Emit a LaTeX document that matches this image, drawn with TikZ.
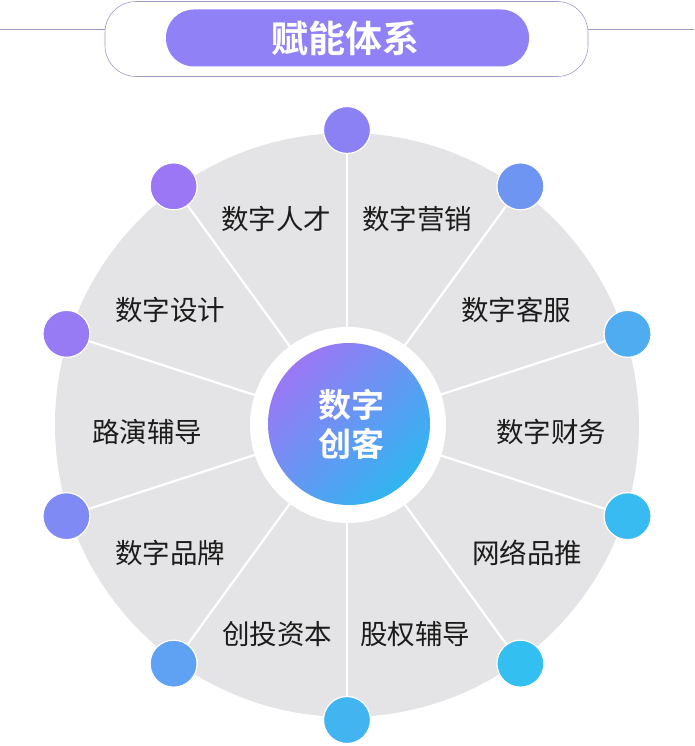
\documentclass[tikz,border=0pt]{standalone}
\usepackage{fontspec}
\newfontfamily\cjk{Noto Sans CJK SC}
\newfontfamily\cjkb{Noto Sans CJK SC Bold}
\usetikzlibrary{calc}
\definecolor{pur}{HTML}{9B77F5}
\definecolor{cya}{HTML}{33BFF0}
\definecolor{disc}{HTML}{E4E4E6}
\definecolor{frame}{HTML}{9C9AC4}
\definecolor{pill}{HTML}{9181F7}
\definecolor{txt}{HTML}{1C1C1C}
\tikzset{
  dot/.style={circle,draw=white,line width=1.2pt,minimum size=47pt,inner sep=0pt},
  lbl/.style={font=\cjk\fontsize{27.5}{32}\selectfont,text=txt,inner sep=0pt},
  spoke/.style={white,line width=2.2pt},
}
\begin{document}
\begin{tikzpicture}[x=1pt,y=-1pt]
\useasboundingbox (0,0) rectangle (694,746);
% title
\coordinate (tl) at (0,29);
\coordinate (tr) at (694,29);
\node[draw=frame,line width=0.6pt,rounded corners=31pt,minimum width=483pt,minimum height=75pt,inner sep=0pt] (tframe) at (346.5,39) {};
\draw[frame,line width=0.8pt] (tl) -- (tframe.west |- tl);
\draw[frame,line width=0.8pt] (tframe.east |- tr) -- (tr);
\node[fill=pill,rounded corners=28pt,minimum width=363pt,minimum height=57pt,inner sep=0pt] (tpill) at (347.5,38) {};
\node[font=\cjkb\fontsize{37}{42}\selectfont,text=white,inner sep=0pt] (ttext) at (345,38) {赋能体系};
% big disc
\node[circle,fill=disc,minimum size=584pt,inner sep=0pt] (big) at (347,425) {};
\coordinate (c) at (347,425);
% dots positions
\foreach \k/\p in {0/86,1/58,2/27,3/5,4/0,5/14,6/42,7/73,8/95,9/100}{
  \pgfmathsetmacro{\ang}{90-36*\k}
  \coordinate (p\k) at ($(c)+({295*cos(\ang)},{-295*sin(\ang)})$);
  \draw[spoke] (c) -- (p\k);
}
% centre
\node[circle,fill=white,minimum size=196pt,inner sep=0pt] (ring) at (348,425) {};
\shade[shading=axis,top color=pur,bottom color=cya!95!blue,shading angle=45] (349,424) circle (81);
\node[font=\cjkb\fontsize{33}{39}\selectfont,text=white,align=center,inner sep=0pt] (ctext) at (351,424) {数字\\创客};
% dots
\foreach \k/\p in {0/86,1/58,2/27,3/5,4/0,5/14,6/42,7/73,8/95,9/100}{
  \node[dot,fill=pur!\p!cya] (d\k) at (p\k) {};
}
% labels
\node[lbl] (l1) at (276,219) {数字人才};
\node[lbl] (l2) at (417,219) {数字营销};
\node[lbl] (l3) at (516,310) {数字客服};
\node[lbl] (l4) at (170,310) {数字设计};
\node[lbl] (l5) at (147,432) {路演辅导};
\node[lbl] (l6) at (551,432) {数字财务};
\node[lbl] (l7) at (170,553) {数字品牌};
\node[lbl] (l8) at (527,553) {网络品推};
\node[lbl] (l9) at (277,634) {创投资本};
\node[lbl] (l10) at (415,634) {股权辅导};
\end{tikzpicture}
\end{document}
